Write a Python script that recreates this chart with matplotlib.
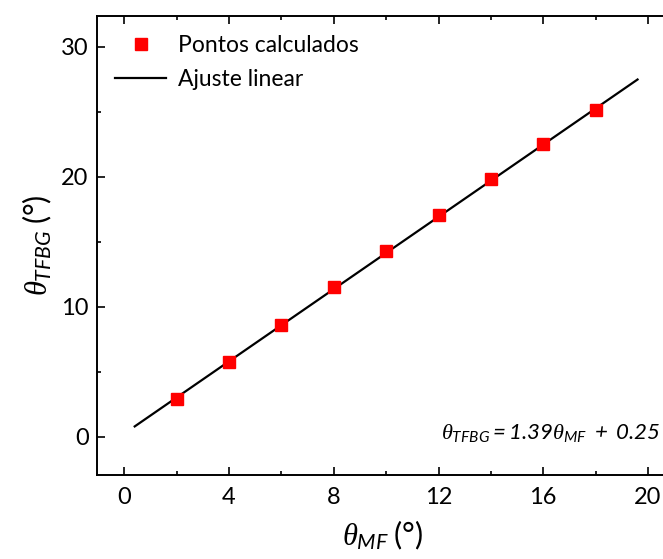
import numpy as np
import matplotlib
matplotlib.use("Agg")
import matplotlib.pyplot as plt

plt.rcParams['font.family'] = ['Lato', 'DejaVu Sans']
plt.rcParams['mathtext.fontset'] = 'custom'
plt.rcParams['mathtext.it'] = 'Liberation Serif:italic'
plt.rcParams['mathtext.rm'] = 'Lato'
plt.rcParams['mathtext.sf'] = 'Lato:italic'

# calculated angles
theta_mf = [2, 4, 6, 8, 10, 12, 14, 16, 18]
theta_tfbg = [2.9, 5.8, 8.6, 11.5, 14.3, 17.1, 19.85, 22.5, 25.15]

# linear fit
slope = 1.39
intercept = 0.25
fit_x = np.array([0.4, 19.6])

xticks = [0, 4, 8, 12, 16, 20]
yticks = [0, 10, 20, 30]

fig = plt.figure(figsize=(6.63, 5.59), dpi=100)
ax = fig.add_axes([0.1463, 0.151, 0.8627, 0.8197])

ax.plot(theta_mf, theta_tfbg, 's', color='#ff0000', markersize=9,
        label='Pontos calculados', zorder=3)
ax.plot(fit_x, slope * fit_x + intercept, '-', color='black', lw=1.6,
        label='Ajuste linear', zorder=2)

ax.set_xlim(-1.04, 20.8)
ax.set_ylim(-2.9, 32.35)
ax.set_xticks(xticks)
ax.set_yticks(yticks)
ax.set_xticks(np.arange(2, 20, 4), minor=True)
ax.set_yticks([5, 15, 25], minor=True)
ax.tick_params(which='both', direction='in', top=True, right=False,
               width=1.2, labelsize=17)
ax.tick_params(which='major', length=6)
ax.tick_params(which='minor', length=3)
ax.tick_params(axis='x', pad=9)
ax.tick_params(axis='y', pad=6)
for s in ax.spines.values():
    s.set_linewidth(1.4)

ax.set_xlabel(r'$\theta_{\mathsf{MF}}\;$(°)', fontsize=22, labelpad=8)
ax.set_ylabel(r'$\theta_{\mathsf{TFBG}}\;$(°)', fontsize=22, labelpad=5)

ax.text(0.985, 0.09,
        r'$\theta_{\mathsf{TFBG}}$' + r'$\mathsf{= 1.39}$' + r'$\theta_{\mathsf{MF}}$'
        + r'$\mathsf{\ +\ 0.25}$',
        transform=ax.transAxes, ha='right', va='center', fontsize=16)

ax.legend(loc='upper left', frameon=False, fontsize=16.5,
          bbox_to_anchor=(0.004, 0.995), handlelength=2.2, handletextpad=0.55,
          borderaxespad=0.3, labelspacing=0.6)

fig.savefig('out.png', dpi=100)
